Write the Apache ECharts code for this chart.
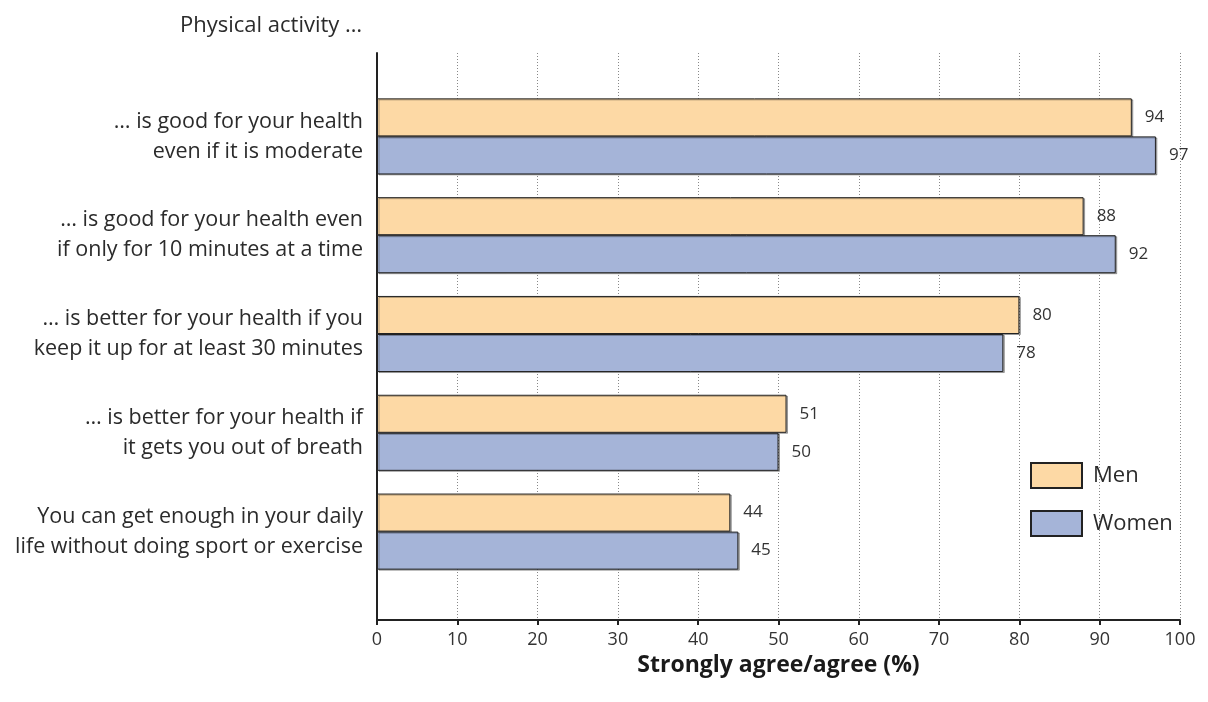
<!DOCTYPE html>
<html>
<head>
<meta charset="utf-8">
<script src="https://cdn.jsdelivr.net/npm/echarts@6/dist/echarts.min.js"></script>
<style>
  html, body { margin: 0; padding: 0; background: #fff; }
  #chart { width: 1208px; height: 702px; }
</style>
</head>
<body>
<div id="chart"></div>
<script>
// statements, top to bottom
var categories = [
    '… is good for your health\neven if it is moderate',
    '… is good for your health even\nif only for 10 minutes at a time',
    '… is better for your health if you\nkeep it up for at least 30 minutes',
    '… is better for your health if\nit gets you out of breath',
    'You can get enough in your daily\nlife without doing sport or exercise'
];
var men = [94, 88, 80, 51, 44];
var women = [97, 92, 78, 50, 45];
var xTicks = [0, 10, 20, 30, 40, 50, 60, 70, 80, 90, 100];

var font = '"Open Sans", "Noto Sans", sans-serif';
var chart = echarts.init(document.getElementById('chart'));

function barSeries(name, data, color) {
    return {
        name: name,
        type: 'bar',
        data: data,
        xAxisIndex: 0,
        yAxisIndex: 0,
        barGap: '0%',
        barCategoryGap: '23%',
        itemStyle: {
            color: color,
            borderColor: '#222',
            borderWidth: 1,
            shadowColor: 'rgba(0,0,0,0.3)',
            shadowOffsetX: 1.5,
            shadowOffsetY: 1
        },
        label: {
            show: true,
            position: 'right',
            distance: 13,
            color: '#333',
            fontFamily: font,
            fontSize: 17
        }
    };
}

option = {
    backgroundColor: '#fff',
    animation: false,
    textStyle: { fontFamily: font },
    title: {
        text: 'Physical activity …',
        left: 175,
        top: 10,
        textStyle: { color: '#2b2b2b', fontSize: 22, fontWeight: 'normal', fontFamily: font }
    },
    legend: {
        orient: 'vertical',
        left: 1025,
        top: 457,
        icon: 'rect',
        itemWidth: 51,
        itemHeight: 25,
        itemGap: 21,
        textStyle: { color: '#2b2b2b', fontSize: 22, lineHeight: 25, fontFamily: font, padding: [0, 0, 0, 6] },
        data: ['Men', 'Women']
    },
    grid: [
        { left: 377, right: 28, top: 87, bottom: 121 },
        { left: 377, right: 28, top: 53, bottom: 82 }
    ],
    xAxis: [
        { gridIndex: 0, type: 'value', min: 0, max: 100, show: false },
        {
            gridIndex: 1,
            type: 'value',
            min: xTicks[0],
            max: xTicks[xTicks.length - 1],
            interval: 10,
            name: 'Strongly agree/agree (%)',
            nameLocation: 'middle',
            nameGap: 31,
            nameTextStyle: { color: '#1a1a1a', fontSize: 23, fontWeight: 'bold', fontFamily: font },
            axisLine: { show: true, lineStyle: { color: '#222', width: 2 } },
            axisTick: { show: true, length: 5, lineStyle: { color: '#222', width: 2 } },
            axisLabel: { color: '#333', fontSize: 18, margin: 11, fontFamily: font },
            splitLine: { show: true, lineStyle: { color: '#888', type: [1, 2], width: 1 } }
        }
    ],
    yAxis: [
        {
            gridIndex: 0,
            type: 'category',
            data: categories,
            inverse: true,
            axisLine: { show: false },
            axisTick: { show: false },
            axisLabel: {
                color: '#2b2b2b',
                fontSize: 21.5,
                lineHeight: 30,
                margin: 14,
                align: 'right',
                fontFamily: font
            }
        },
        {
            gridIndex: 1,
            type: 'value',
            min: 0,
            max: 1,
            axisLine: { show: true, lineStyle: { color: '#222', width: 2 } },
            axisTick: { show: false },
            axisLabel: { show: false },
            splitLine: { show: false }
        }
    ],
    series: [
        barSeries('Men', men, '#fdd9a5'),
        barSeries('Women', women, '#a5b4d8')
    ]
};
chart.setOption(option);
</script>
</body>
</html>
